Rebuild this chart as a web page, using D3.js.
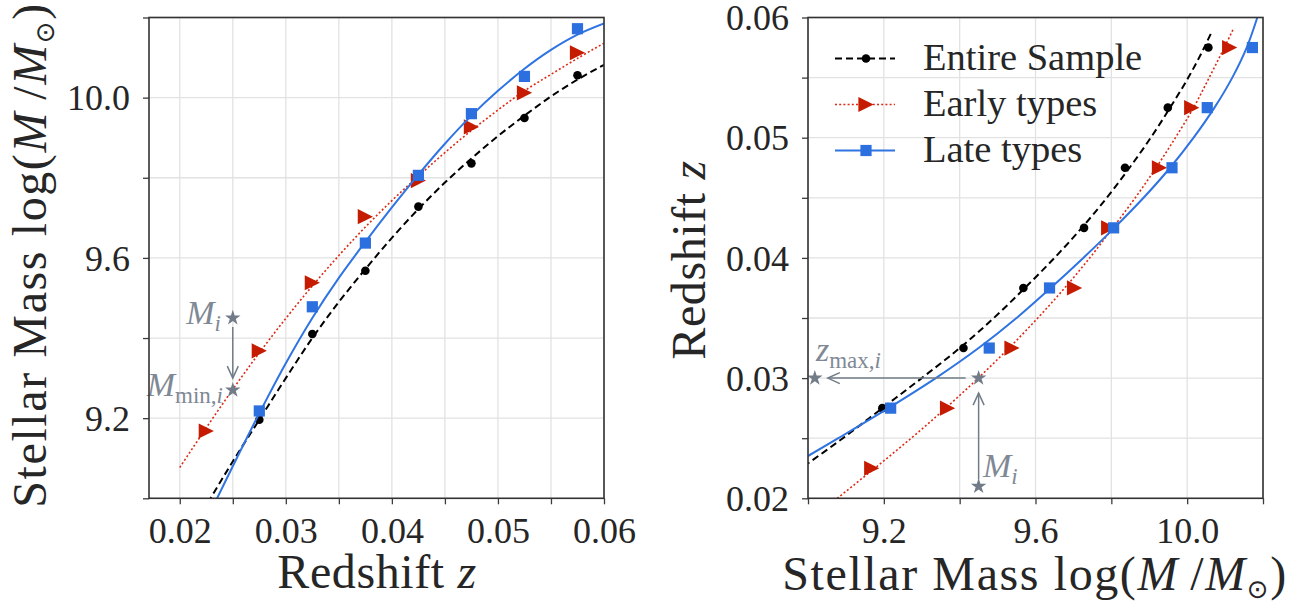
<!DOCTYPE html>
<html>
<head>
<meta charset="utf-8">
<script src="https://cdn.jsdelivr.net/npm/d3@7"></script>
<style>
	body { margin: 0; background: #fff; }
	svg { display: block; }
</style>
</head>
<body>
<div id="chart"></div>
<script>
'use strict';
(function(){

	// binned medians, bin centres in redshift
	var zBins = [0.0225, 0.0275, 0.0325, 0.0375, 0.0425, 0.0475, 0.0525, 0.0575];
	var massEntire = [null, 9.196, 9.410, 9.568, 9.728, 9.836, 9.949, 10.056];
	var massEarly = [9.168, 9.368, 9.538, 9.703, 9.793, 9.927, 10.012, 10.112];
	var massLate = [null, 9.218, 9.478, 9.637, 9.806, 9.960, 10.053, 10.172];

	// fitted curves
	var fitZ = [0.0200, 0.0225, 0.0250, 0.0275, 0.0300, 0.0325, 0.0350, 0.0375, 0.0400,
		0.0425, 0.0450, 0.0475, 0.0500, 0.0525, 0.0550, 0.0575, 0.0600];
	var fitEntire = [8.870, 8.982, 9.092, 9.196, 9.300, 9.400, 9.490, 9.572, 9.650,
		9.722, 9.788, 9.848, 9.904, 9.955, 10.003, 10.045, 10.082];
	var fitEarly = [9.077, 9.176, 9.272, 9.363, 9.449, 9.530, 9.606, 9.677, 9.743,
		9.804, 9.863, 9.918, 9.969, 10.017, 10.058, 10.098, 10.136];
	var fitLate = [8.810, 8.945, 9.080, 9.212, 9.337, 9.450, 9.550, 9.640, 9.726,
		9.808, 9.885, 9.955, 10.017, 10.072, 10.119, 10.157, 10.185];
	// upper redshift where each curve stops in the right panel
	var fitEndZ = [0.0587, 0.0591, 0.0610];

	var seriesNames = ['Entire Sample', 'Early types', 'Late types'];

	// ticks
	var zTicks = [0.020, 0.025, 0.030, 0.035, 0.040, 0.045, 0.050, 0.055, 0.060];
	var zTickLabels = ['0.02', '', '0.03', '', '0.04', '', '0.05', '', '0.06'];
	var massTicks = [9.0, 9.2, 9.4, 9.6, 9.8, 10.0, 10.2];
	var massTickLabels = ['', '9.2', '', '9.6', '', '10.0', ''];

	// illustration stars
	var leftStars = [[0.025, 9.45], [0.025, 9.27]];         // (z, M)
	var rightStars = [[9.45, 0.030], [9.45, 0.021], [9.018, 0.030]]; // (M, z)

	var FONT = '"Liberation Serif", "DejaVu Serif", serif';
	var GRAY = '#717c88';

	var W = 1303, H = 603;
	var svg = d3.select('#chart').append('svg')
		.attr('width', W).attr('height', H)
		.attr('font-family', FONT);

	var top = 17.5, bottom = 498.3;
	var xL = d3.scaleLinear().domain([0.0171, 0.06]).range([149, 604]);
	var yL = d3.scaleLinear().domain([9.0, 10.2]).range([bottom, top]);
	var xR = d3.scaleLinear().domain([9.0, 10.2]).range([808, 1263]);
	var yR = d3.scaleLinear().domain([0.02, 0.06]).range([bottom, top]);

	var styles = [
		{ color: '#000000', mcolor: '#000000', dash: '7,4', width: 2, marker: 'circle' },
		{ color: '#dc2a14', mcolor: '#c51b00', dash: '2,2.2', width: 1.6, marker: 'triangle' },
		{ color: '#2f74e2', mcolor: '#2c6fde', dash: null, width: 2, marker: 'square' }
	];
	var masses = [massEntire, massEarly, massLate];
	var fits = [fitEntire, fitEarly, fitLate];

	function frame(id, x, y, xt, xlab, yt, ylab) {
		var g = svg.append('g');
		var x0 = x.range()[0], x1 = x.range()[1], y0 = y.range()[0], y1 = y.range()[1];
		svg.append('clipPath').attr('id', id).append('rect')
			.attr('x', x0).attr('y', y1).attr('width', x1 - x0).attr('height', y0 - y1);

		// grid
		g.append('g').selectAll('line').data(xt).join('line')
			.attr('x1', function (d) { return x(d); }).attr('x2', function (d) { return x(d); })
			.attr('y1', y0).attr('y2', y1)
			.attr('stroke', '#e2e2e2').attr('stroke-width', 1.3);
		g.append('g').selectAll('line').data(yt).join('line')
			.attr('y1', function (d) { return y(d); }).attr('y2', function (d) { return y(d); })
			.attr('x1', x0).attr('x2', x1)
			.attr('stroke', '#e2e2e2').attr('stroke-width', 1.3);

		// axes
		var ax = g.append('g').attr('transform', 'translate(0,' + y0 + ')')
			.call(d3.axisBottom(x).tickValues(xt)
				.tickFormat(function (d, i) { return xlab[i]; })
				.tickSize(6).tickSizeOuter(0));
		ax.selectAll('text').attr('y', 45).attr('dy', null);

		var ay = g.append('g').attr('transform', 'translate(' + x0 + ',0)')
			.call(d3.axisLeft(y).tickValues(yt)
				.tickFormat(function (d, i) { return ylab[i]; })
				.tickSize(6).tickSizeOuter(0));
		ay.selectAll('text').attr('x', -19).attr('dy', '0.34em');

		g.selectAll('.domain').remove();
		g.selectAll('.tick line').attr('stroke', '#3c3c3c').attr('stroke-width', 1.3);
		ax.attr('font-family', FONT).attr('font-size', 36);
		ay.attr('font-family', FONT).attr('font-size', 36);
		g.selectAll('.tick text').attr('fill', '#262626');
		return g;
	}

	function border(x, y) {
		svg.append('rect')
			.attr('x', x.range()[0]).attr('y', y.range()[1])
			.attr('width', x.range()[1] - x.range()[0])
			.attr('height', y.range()[0] - y.range()[1])
			.attr('fill', 'none').attr('stroke', '#333333').attr('stroke-width', 1.6);
	}

	function marker(sel, type, color) {
		if (type === 'circle') {
			sel.append('circle').attr('r', 4.3).attr('fill', color);
		} else if (type === 'triangle') {
			sel.append('path').attr('d', 'M-7.6,-7.6L7.6,0L-7.6,7.6Z').attr('fill', color);
		} else {
			sel.append('rect').attr('x', -5.6).attr('y', -5.6)
				.attr('width', 11.2).attr('height', 11.2).attr('fill', color);
		}
	}

	function star(g, px, py) {
		g.append('path')
			.attr('d', d3.symbol().type(d3.symbolStar).size(75)())
			.attr('transform', 'translate(' + px + ',' + py + ')')
			.attr('fill', GRAY);
	}

	// arrow from (ax,ay) towards (bx,by), open head at the end
	function arrow(g, ax, ay, bx, by) {
		var dx = bx - ax, dy = by - ay, len = Math.sqrt(dx * dx + dy * dy);
		var ux = dx / len, uy = dy / len;
		g.append('line').attr('x1', ax).attr('y1', ay).attr('x2', bx).attr('y2', by)
			.attr('stroke', GRAY).attr('stroke-width', 1.5);
		var hl = 12, hw = 5.5;
		g.append('path')
			.attr('d', 'M' + (bx - ux * hl - uy * hw) + ',' + (by - uy * hl + ux * hw) +
				'L' + bx + ',' + by +
				'L' + (bx - ux * hl + uy * hw) + ',' + (by - uy * hl - ux * hw))
			.attr('fill', 'none').attr('stroke', GRAY).attr('stroke-width', 1.5);
	}

	function mathLabel(g, px, py, anchor, main, sub, subItalicTail) {
		var t = g.append('text').attr('x', px).attr('y', py)
			.attr('text-anchor', anchor).attr('fill', '#7f8995').attr('font-size', 34);
		t.append('tspan').attr('font-style', 'italic').text(main);
		if (sub) t.append('tspan').attr('font-size', 23).attr('dy', 7).text(sub);
		t.append('tspan').attr('font-size', 23).attr('font-style', 'italic')
			.attr('dy', sub ? 0 : 7).text(subItalicTail);
		return t;
	}

	// ---------------- left panel: M vs z ----------------
	frame('clipL', xL, yL, zTicks, zTickLabels, massTicks, massTickLabels);
	var plotL = svg.append('g').attr('clip-path', 'url(#clipL)');

	// stars and arrow
	var annL = svg.append('g');
	leftStars.forEach(function (s) { star(annL, xL(s[0]), yL(s[1])); });
	arrow(annL, xL(leftStars[0][0]), yL(leftStars[0][1]) + 9,
		xL(leftStars[1][0]), yL(leftStars[1][1]) - 12);
	mathLabel(annL, 221, yL(leftStars[0][1]) + 6, 'end', 'M', null, 'i');
	mathLabel(annL, 223, yL(leftStars[1][1]) + 6, 'end', 'M', 'min,', 'i');

	styles.forEach(function (st, k) {
		var line = d3.line()
			.x(function (d, i) { return xL(fitZ[i]); })
			.y(function (d) { return yL(d); })
			.curve(d3.curveCatmullRom);
		plotL.append('path').datum(fits[k]).attr('d', line)
			.attr('fill', 'none').attr('stroke', st.color)
			.attr('stroke-width', st.width).attr('stroke-dasharray', st.dash);
		zBins.forEach(function (z, i) {
			if (masses[k][i] === null) return;
			var m = plotL.append('g').attr('transform', 'translate(' + xL(z) + ',' + yL(masses[k][i]) + ')');
			marker(m, st.marker, st.mcolor);
		});
	});
	border(xL, yL);

	// ---------------- right panel: z vs M ----------------
	frame('clipR', xR, yR, massTicks, massTickLabels, zTicks, zTickLabels);
	var plotR = svg.append('g').attr('clip-path', 'url(#clipR)');

	var annR = svg.append('g');
	rightStars.forEach(function (s) { star(annR, xR(s[0]), yR(s[1])); });
	arrow(annR, xR(rightStars[1][0]), yR(rightStars[1][1]) - 7,
		xR(rightStars[0][0]), yR(rightStars[0][1]) + 15);
	arrow(annR, xR(rightStars[0][0]) - 13, yR(rightStars[0][1]),
		xR(rightStars[2][0]) + 13, yR(rightStars[2][1]));
	mathLabel(annR, 816, 361, 'start', 'z', 'max,', 'i');
	mathLabel(annR, 983, 477, 'start', 'M', null, 'i');

	styles.forEach(function (st, k) {
		svg.append('clipPath').attr('id', 'clipR' + k).append('rect')
			.attr('x', xR.range()[0]).attr('y', yR(fitEndZ[k]))
			.attr('width', xR.range()[1] - xR.range()[0])
			.attr('height', bottom - yR(fitEndZ[k]));
		var line = d3.line()
			.x(function (d) { return xR(d); })
			.y(function (d, i) { return yR(fitZ[i]); })
			.curve(d3.curveCatmullRom);
		plotR.append('g').attr('clip-path', 'url(#clipR' + k + ')')
			.append('path').datum(fits[k]).attr('d', line)
			.attr('fill', 'none').attr('stroke', st.color)
			.attr('stroke-width', st.width).attr('stroke-dasharray', st.dash);
		zBins.forEach(function (z, i) {
			if (masses[k][i] === null) return;
			var m = plotR.append('g').attr('transform', 'translate(' + xR(masses[k][i]) + ',' + yR(z) + ')');
			marker(m, st.marker, st.mcolor);
		});
	});
	border(xR, yR);

	// legend
	var leg = svg.append('g');
	styles.forEach(function (st, k) {
		var ly = 58.5 + k * 46;
		leg.append('line').attr('x1', 835).attr('x2', 895).attr('y1', ly).attr('y2', ly)
			.attr('stroke', st.color).attr('stroke-width', st.width)
			.attr('stroke-dasharray', st.dash);
		marker(leg.append('g').attr('transform', 'translate(866,' + ly + ')'), st.marker, st.mcolor);
		leg.append('text').attr('x', 923).attr('y', ly + 11)
			.attr('font-size', 38.5).attr('fill', '#262626').text(seriesNames[k]);
	});

	// axis titles
	function redshiftTitle(t) {
		t.attr('font-size', 48).attr('letter-spacing', 0.6).attr('fill', '#262626');
		t.append('tspan').text('Redshift ');
		t.append('tspan').attr('font-style', 'italic').text('z');
	}
	function massTitle(t) {
		t.attr('font-size', 48).attr('letter-spacing', 1.6).attr('fill', '#262626');
		t.append('tspan').text('Stellar Mass log(');
		t.append('tspan').attr('font-style', 'italic').text('M');
		t.append('tspan').text('\u2009/');
		t.append('tspan').attr('font-style', 'italic').text('M');
		t.append('tspan').attr('font-size', 26).attr('dy', 8).attr('font-family', '"DejaVu Sans"').text('\u2299');
		t.append('tspan').attr('dy', -8).text(')');
	}

	redshiftTitle(svg.append('text').attr('x', 377).attr('y', 588).attr('text-anchor', 'middle'));
	massTitle(svg.append('text').attr('transform', 'translate(46,255) rotate(-90)')
		.attr('text-anchor', 'middle'));
	redshiftTitle(svg.append('text').attr('transform', 'translate(705,260) rotate(-90)')
		.attr('text-anchor', 'middle'));
	massTitle(svg.append('text').attr('x', 1035).attr('y', 590).attr('text-anchor', 'middle'));

}());
</script>
</body>
</html>
